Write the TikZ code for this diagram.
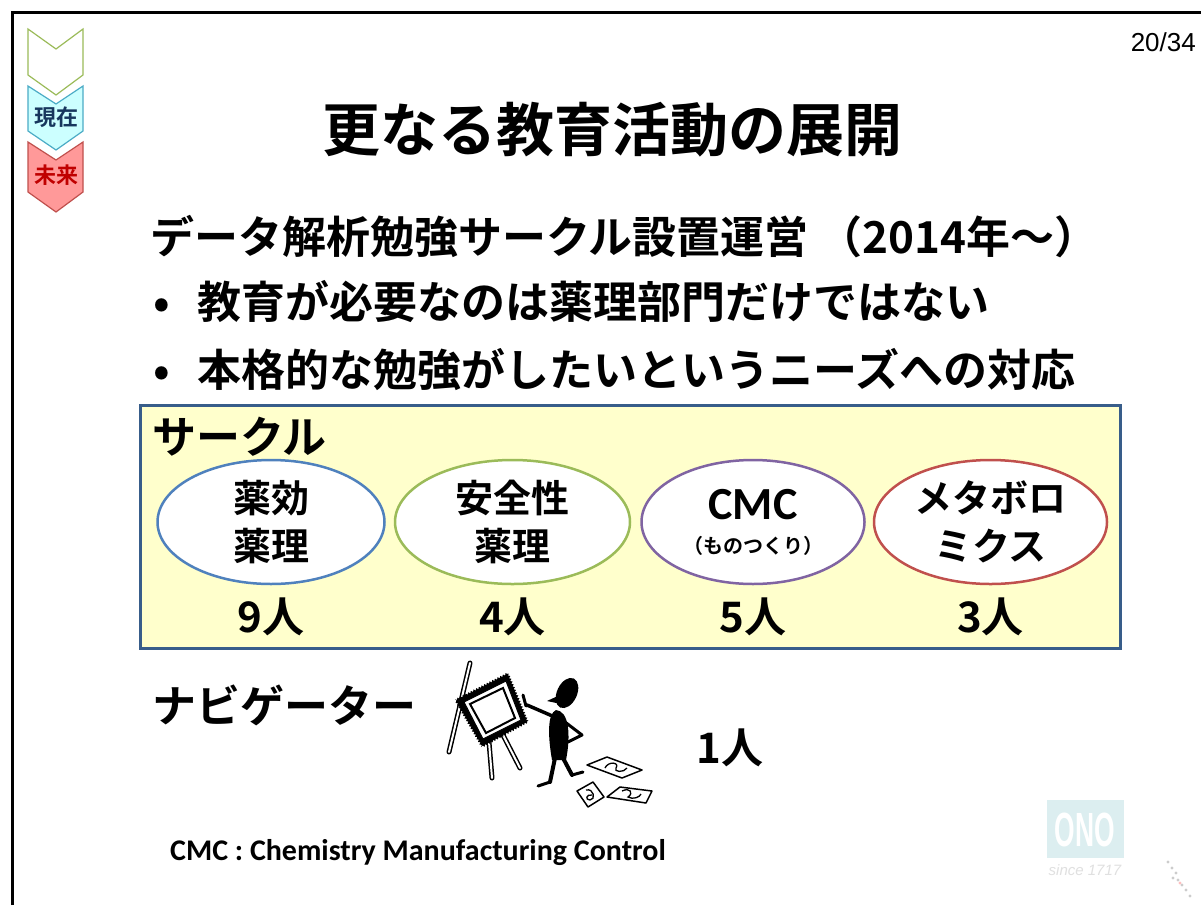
\documentclass[tikz,border=0pt]{standalone}
\usepackage{fontspec}
\setmainfont{Noto Sans CJK JP}[BoldFont={Noto Sans CJK JP Bold}]
\newfontfamily\calibri{Carlito}
\newfontfamily\arial{Liberation Sans}
\usepackage{tikz}
\usetikzlibrary{positioning,shapes.geometric,decorations.pathmorphing}
\definecolor{panelfill}{HTML}{FFFFCC}
\definecolor{panelline}{HTML}{385D8A}
\definecolor{pdblue}{HTML}{4F81BD}
\definecolor{sfgreen}{HTML}{9BBB59}
\definecolor{cmcpurple}{HTML}{8064A2}
\definecolor{mbred}{HTML}{C0504D}
\definecolor{navy}{HTML}{17375E}
\definecolor{darkred}{HTML}{C00000}
\definecolor{nowcyan}{HTML}{CCFFFF}
\definecolor{nowline}{HTML}{4BACC6}
\definecolor{nextpink}{HTML}{FF9999}
\definecolor{onoblue}{HTML}{DCEEF0}

\begin{document}
\begin{tikzpicture}[x=1pt, y=-1pt,
  titletext/.style={font=\bfseries\fontsize{58}{66}\selectfont, inner sep=0pt},
  itemtext/.style={font=\bfseries\fontsize{44}{50}\selectfont, anchor=west, inner sep=0pt},
  teamoval/.style={ellipse, draw, line width=2.5pt, fill=white, minimum width=227pt,
                   minimum height=124pt, inner sep=0pt, align=center,
                   font=\bfseries\fontsize{38}{48}\selectfont},
  headcount/.style={font=\bfseries\fontsize{42}{48}\selectfont, inner sep=0pt},
  chevtext/.style={font=\bfseries\fontsize{22}{24}\selectfont, inner sep=0pt},
  easelleg/.style={line width=5pt, line cap=round},
  easelgap/.style={line width=2pt, white, line cap=round},
  paper/.style={line width=1.5pt, fill=white, line join=round}
]
\useasboundingbox (0,0) rectangle (1201,905);
\fill[white] (0,0) rectangle (1201,905);

% slide frame and page number
\draw[line width=3pt] (12,905) -- (12,12) -- (1201,12);
\node[font=\arial\fontsize{26}{28}\selectfont, anchor=east, inner sep=0pt] (page) at (1196,42) {20/34};

% timeline chevrons
\filldraw[draw=sfgreen, fill=white, line width=1.2pt]
  (28,29) -- (56,49) -- (83,29) -- (83,75) -- (56,95) -- (28,75) -- cycle;
\filldraw[draw=nowline, fill=nowcyan, line width=1.2pt]
  (28,86) -- (56,104) -- (83,86) -- (83,131) -- (56,150) -- (28,131) -- cycle;
\filldraw[draw=mbred, fill=nextpink, line width=1.2pt]
  (28,142) -- (56,160) -- (83,142) -- (83,192) -- (56,212) -- (28,192) -- cycle;
\node[chevtext, text=navy] (now) at (56,117) {現在};
\node[chevtext, text=darkred] (next) at (56,175) {未来};

% heading and items
\node[titletext] (title) at (612,130) {更なる教育活動の展開};
\node[itemtext] (circ) at (150,237) {データ解析勉強サークル設置運営 （2014年～）};
\node[itemtext] (item1) at (153,302) {•\hspace{28pt}教育が必要なのは薬理部門だけではない};
\node[itemtext] (item2) at (153,370) {•\hspace{28pt}本格的な勉強がしたいというニーズへの対応};

% circle panel
\draw[fill=panelfill, draw=panelline, line width=3pt] (140,405) rectangle (1120,648);
\node[itemtext] (clubs) at (152,437) {サークル};

\node[teamoval, draw=pdblue] (pd) at (271,522) {薬効\\薬理};
\node[teamoval, draw=sfgreen, minimum width=235pt, right=8pt of pd] (sf) {安全性\\薬理};
\node[teamoval, draw=cmcpurple, minimum width=223pt, right=9pt of sf] (cmc)
  {{\calibri\bfseries\fontsize{46}{46}\selectfont CMC}\\[-14pt]{\fontsize{20}{22}\selectfont （ものつくり）}};
\node[teamoval, draw=mbred, minimum width=233pt, right=7pt of cmc] (mb) {メタボロ\\ミクス};

\node[headcount, below=12pt of pd] (npd) {9人};
\node[headcount, below=12pt of sf] (nsf) {4人};
\node[headcount, below=12pt of cmc] (ncmc) {5人};
\node[headcount, below=12pt of mb] (nmb) {3人};

% navigator
\node[itemtext] (navi) at (152,705) {ナビゲーター};
\node[headcount] (nnavi) at (730,748) {1人};

% easel
\draw[easelleg] (470,663) -- (449,752);
\draw[easelgap] (470,663) -- (449,752);
\draw[easelleg] (489,742) -- (492,778);
\draw[easelgap] (489,742) -- (492,778);
\draw[easelleg] (503,735) -- (520,768);
\draw[easelgap] (503,735) -- (520,768);
\fill[decorate, decoration={zigzag, segment length=3pt, amplitude=1pt}]
  (508,673) -- (455,700) -- (482,747) -- (528,722) -- cycle;
\filldraw[white, draw=black, line width=1pt] (506,681) -- (464,702) -- (483,739) -- (521,720) -- cycle;
\draw[line width=2pt] (503,688) -- (470,704) -- (486,733) -- (515,718) -- cycle;

% painter
\fill[rotate around={-25:(567,693)}] (567,693) ellipse (10 and 16);
\fill (547,701) -- (560,695) -- (561,704) -- cycle;
\fill (556,710) .. controls (569,711) and (571,735) .. (566,760)
  -- (552,760) .. controls (548,737) and (547,714) .. (556,710);
\draw[line width=3.5pt, line cap=round] (557,718) -- (527,705);
\draw[line width=3pt, line cap=round] (526,706) -- (523,695);
\draw[line width=3pt, line cap=round, line join=round] (565,722) -- (582,735) -- (568,742);
\draw[line width=4pt, line cap=round] (555,758) -- (550,782);
\draw[line width=3pt, line cap=round] (550,782) -- (538,786);
\draw[line width=4pt, line cap=round] (563,758) -- (572,775);
\draw[line width=3pt, line cap=round] (572,775) -- (583,772);

% sketches on the floor
\filldraw[paper] (587,765) -- (607,757) -- (642,770) -- (622,778) -- cycle;
\draw[line width=1.3pt] (605,768) .. controls (608,761) and (620,762) .. (616,768)
  .. controls (613,772) and (624,773) .. (627,768);
\filldraw[paper] (577,791) -- (593,782) -- (604,797) -- (588,807) -- cycle;
\draw[line width=1.3pt] (586,790) .. controls (594,788) and (596,800) .. (590,800)
  .. controls (585,800) and (586,794) .. (592,795);
\filldraw[paper] (607,797) -- (620,787) -- (652,791) -- (646,803) -- cycle;
\draw[line width=1.3pt] (622,791) .. controls (630,787) and (634,793) .. (628,797)
  .. controls (633,800) and (640,797) .. (641,794);

% footnote
\node[font=\calibri\bfseries\fontsize{30}{32}\selectfont, anchor=west, inner sep=0pt] (note) at (170,853)
  {CMC : Chemistry Manufacturing Control};

% company mark
\fill[onoblue] (1047,800) rectangle (1124,858);
\node[text=white, font=\arial\bfseries\fontsize{48}{48}\selectfont, xscale=0.55, inner sep=0pt] (logo) at (1085,830) {ONO};
\node[text=black!12, font=\arial\itshape\fontsize{15}{15}\selectfont, inner sep=0pt] (since) at (1085,870) {since 1717};
\foreach \px/\py in {1168/862, 1172/868, 1176/873, 1178/880, 1182/885, 1186/890, 1190/896, 1173/878}
  \fill[black!20] (\px,\py) circle (1.6);
\fill[red!25] (1180,883) circle (1.6);
\end{tikzpicture}
\end{document}
